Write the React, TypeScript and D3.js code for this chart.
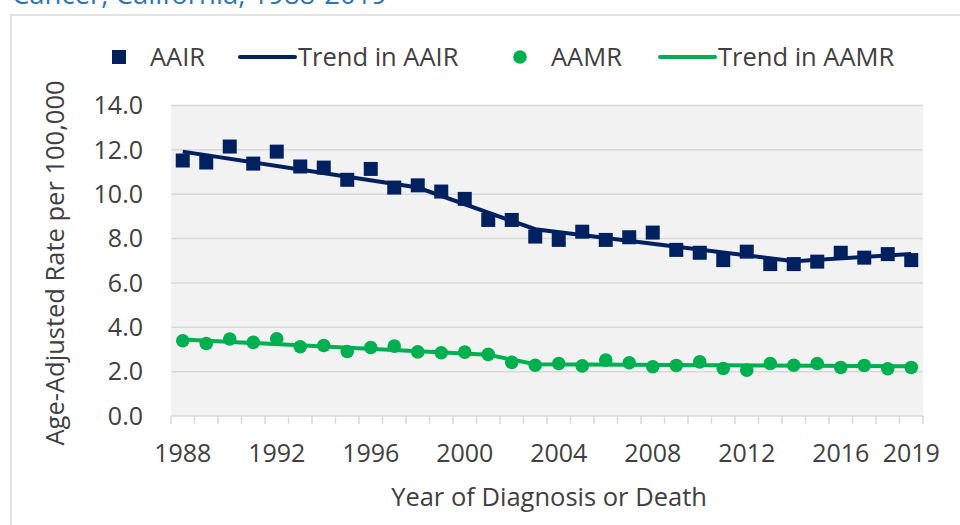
import { useMemo } from 'react';
import * as d3 from 'd3';

const WIDTH = 960;
const HEIGHT = 525;
const PLOT = { left: 171, right: 923, top: 105.5, bottom: 416 };

const NAVY = '#002060';
const GREEN = '#00B050';
const TEXT = '#404040';
const FONT = '"Open Sans", sans-serif';

const years = d3.range(1988, 2020);

// age-adjusted incidence rate
const aair = [
  11.52, 11.43, 12.15, 11.38, 11.92, 11.25, 11.2, 10.65, 11.14, 10.3, 10.4,
  10.12, 9.79, 8.84, 8.84, 8.09, 7.94, 8.31, 7.94, 8.06, 8.27, 7.49, 7.36,
  7.03, 7.41, 6.85, 6.85, 6.96, 7.36, 7.14, 7.3, 7.03,
];

// age-adjusted mortality rate
const aamr = [
  3.39, 3.27, 3.47, 3.32, 3.48, 3.12, 3.18, 2.91, 3.09, 3.15, 2.89, 2.85,
  2.88, 2.78, 2.42, 2.29, 2.37, 2.26, 2.52, 2.4, 2.22, 2.28, 2.44, 2.14,
  2.07, 2.37, 2.29, 2.37, 2.19, 2.28, 2.13, 2.19,
];

// joinpoint trend segments
const aairTrendYears = [1988, 1998, 2003, 2014, 2019];
const aairTrendValues = [11.92, 10.3, 8.42, 6.98, 7.3];
const aamrTrendYears = [1988, 2001, 2003, 2019];
const aamrTrendValues = [3.45, 2.76, 2.33, 2.24];

const yTicks = [0, 2, 4, 6, 8, 10, 12, 14];
const xTickLabels = [1988, 1992, 1996, 2000, 2004, 2008, 2012, 2016, 2019];

const App = () => {
  const xScale = useMemo(() => {
    return d3
      .scaleBand<number>()
      .domain(years)
      .range([PLOT.left, PLOT.right])
      .padding(0);
  }, []);

  const yScale = useMemo(() => {
    return d3.scaleLinear().domain([0, 14]).range([PLOT.bottom, PLOT.top]);
  }, []);

  const cx = (year: number) => (xScale(year) ?? 0) + xScale.bandwidth() / 2;

  const trendLine = d3
    .line<[number, number]>()
    .x(d => cx(d[0]))
    .y(d => yScale(d[1]));

  const aairTrend = trendLine(
    aairTrendYears.map((y, i) => [y, aairTrendValues[i]] as [number, number])
  );
  const aamrTrend = trendLine(
    aamrTrendYears.map((y, i) => [y, aamrTrendValues[i]] as [number, number])
  );

  const gridLines = yTicks.map(t => (
    <line
      key={`grid-${t}`}
      x1={PLOT.left}
      x2={PLOT.right}
      y1={yScale(t)}
      y2={yScale(t)}
      stroke="#d9d9d9"
      strokeWidth={1.5}
    />
  ));

  const yLabels = yTicks.map(t => (
    <text
      key={`ylab-${t}`}
      x={143}
      y={yScale(t)}
      dy="0.35em"
      textAnchor="end"
      fontSize={25}
      fill={TEXT}
    >
      {t.toFixed(1)}
    </text>
  ));

  // category axis: ticks sit between the years
  const xTicks = [...years.map(y => xScale(y) ?? 0), PLOT.right].map((x, i) => (
    <line
      key={`xtick-${i}`}
      x1={x}
      x2={x}
      y1={PLOT.bottom}
      y2={PLOT.bottom + 8}
      stroke="#d9d9d9"
      strokeWidth={1.5}
    />
  ));

  const xLabels = xTickLabels.map(y => (
    <text
      key={`xlab-${y}`}
      x={cx(y)}
      y={462}
      textAnchor="middle"
      fontSize={25}
      fill={TEXT}
    >
      {y}
    </text>
  ));

  const squares = years.map((y, i) => (
    <rect
      key={`aair-${y}`}
      x={cx(y) - 7}
      y={yScale(aair[i]) - 7}
      width={14}
      height={14}
      fill={NAVY}
    />
  ));

  const circles = years.map((y, i) => (
    <circle
      key={`aamr-${y}`}
      cx={cx(y)}
      cy={yScale(aamr[i])}
      r={6.8}
      fill={GREEN}
    />
  ));

  const legendY = 57;

  return (
    <div style={{ position: 'absolute', left: 0, top: 0 }}>
      <svg width={WIDTH} height={HEIGHT} fontFamily={FONT}>
        <rect width={WIDTH} height={HEIGHT} fill="white" />
        <text x={12} y={4} fontSize={27.5} fill="#2E75B6">
          Cancer, California, 1988-2019
        </text>
        <rect
          x={11}
          y={15}
          width={WIDTH}
          height={HEIGHT}
          fill="white"
          stroke="#d9d9d9"
          strokeWidth={1.5}
        />

        <rect
          x={PLOT.left}
          y={PLOT.top}
          width={PLOT.right - PLOT.left}
          height={PLOT.bottom - PLOT.top}
          fill="#f2f2f2"
        />
        {gridLines}
        {xTicks}
        {yLabels}
        {xLabels}

        <path d={aamrTrend ?? ''} fill="none" stroke={GREEN} strokeWidth={4} />
        {circles}
        <path d={aairTrend ?? ''} fill="none" stroke={NAVY} strokeWidth={4} />
        {squares}

        <text
          x={549}
          y={506}
          textAnchor="middle"
          fontSize={25.5}
          fill={TEXT}
        >
          Year of Diagnosis or Death
        </text>
        <text
          transform={`translate(55,263) rotate(-90)`}
          textAnchor="middle"
          dy="0.35em"
          fontSize={25.5}
          fill={TEXT}
        >
          Age-Adjusted Rate per 100,000
        </text>

        <g fontSize={25.5} fill={TEXT}>
          <rect x={112} y={legendY - 7} width={14} height={14} fill={NAVY} />
          <text x={150} y={legendY} dy="0.35em">AAIR</text>
          <line
            x1={240}
            x2={295}
            y1={legendY}
            y2={legendY}
            stroke={NAVY}
            strokeWidth={4}
            strokeLinecap="round"
          />
          <text x={298} y={legendY} dy="0.35em">Trend in AAIR</text>
          <circle cx={520} cy={legendY} r={6.8} fill={GREEN} />
          <text x={551} y={legendY} dy="0.35em">AAMR</text>
          <line
            x1={660}
            x2={715}
            y1={legendY}
            y2={legendY}
            stroke={GREEN}
            strokeWidth={4}
            strokeLinecap="round"
          />
          <text x={718} y={legendY} dy="0.35em">Trend in AAMR</text>
        </g>
      </svg>
    </div>
  );
};

export default App;
